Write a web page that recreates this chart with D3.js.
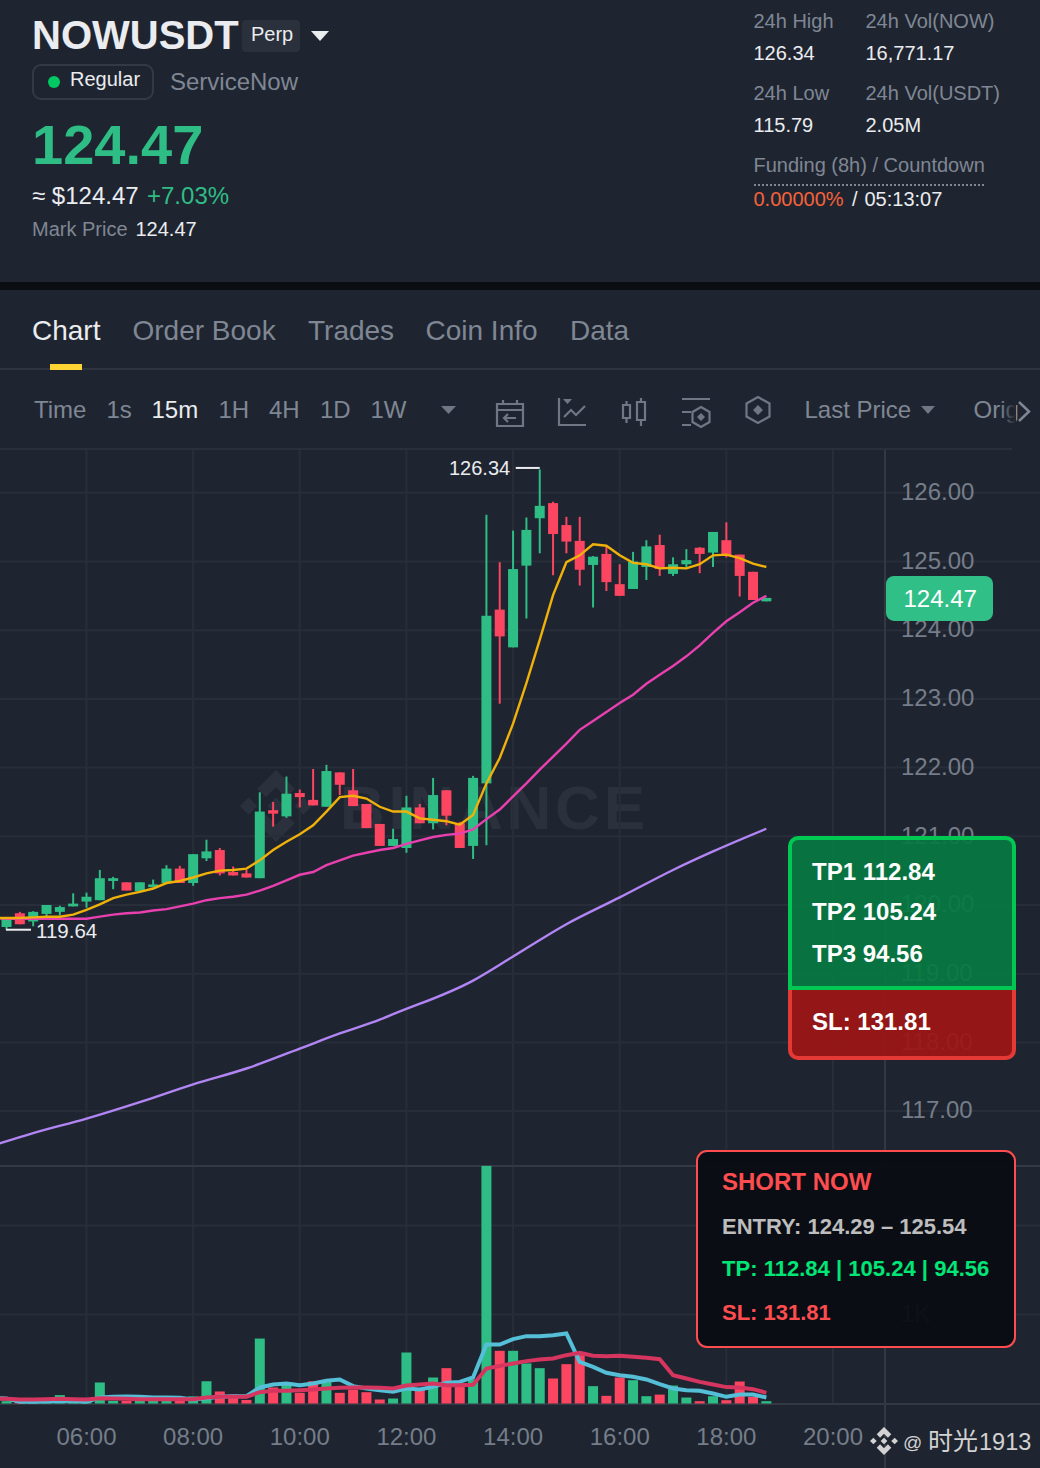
<!DOCTYPE html>
<html>
<head>
<meta charset="utf-8">
<script src="https://cdn.jsdelivr.net/npm/d3@7"></script>
<style>
  html, body { margin: 0; padding: 0; background: #1f2530; }
  svg { display: block; }
  text { font-family: "Liberation Sans", Arial, "Noto Sans CJK SC", sans-serif; }
</style>
</head>
<body>
<div id="chart"></div>
<script>
// 15m candles, 04:15 to 18:45 (the first one sits just off the left edge)
const opens = [119.75, 119.68, 119.88, 119.76, 119.87, 119.90, 119.98, 120.05, 120.07, 120.35, 120.33, 120.20, 120.26, 120.32, 120.53, 120.32, 120.68, 120.80, 120.48, 120.46, 120.39, 121.38, 121.29, 121.63, 121.53, 121.43, 121.93, 121.67, 121.47, 121.18, 120.86, 120.83, 121.42, 121.19, 121.67, 121.19, 120.86, 121.77, 124.30, 123.75, 124.94, 125.63, 125.85, 125.53, 125.30, 124.95, 125.11, 124.67, 124.60, 124.92, 125.24, 124.82, 124.96, 125.20, 125.13, 125.31, 125.10, 124.85, 124.42];
const highs = [119.80, 119.81, 119.90, 119.91, 120.00, 119.99, 120.17, 120.18, 120.51, 120.41, 120.33, 120.33, 120.37, 120.58, 120.57, 120.74, 120.95, 120.83, 120.56, 120.51, 121.64, 121.50, 121.87, 121.68, 121.98, 122.04, 121.93, 121.98, 121.47, 121.18, 121.11, 121.59, 121.47, 121.85, 121.67, 121.21, 121.88, 125.68, 124.99, 125.45, 125.64, 126.34, 125.87, 125.65, 125.65, 125.08, 125.22, 124.96, 125.14, 125.31, 125.39, 125.06, 125.18, 125.21, 125.43, 125.57, 125.10, 124.85, 124.47];
const lows = [119.70, 119.64, 119.72, 119.69, 119.81, 119.85, 119.98, 119.96, 120.07, 120.23, 120.21, 120.20, 120.26, 120.32, 120.32, 120.28, 120.64, 120.43, 120.43, 120.40, 120.39, 121.14, 121.27, 121.42, 121.45, 121.43, 121.60, 121.44, 121.12, 120.86, 120.86, 120.76, 121.19, 121.10, 121.16, 120.83, 120.67, 120.87, 122.93, 123.75, 124.17, 125.12, 124.80, 125.12, 124.65, 124.33, 124.57, 124.50, 124.60, 124.73, 124.79, 124.79, 124.92, 124.83, 124.92, 125.06, 124.49, 124.44, 124.42];
const closes = [119.80, 119.81, 119.72, 119.90, 120.00, 119.97, 120.02, 120.12, 120.39, 120.39, 120.21, 120.33, 120.30, 120.53, 120.32, 120.74, 120.78, 120.46, 120.43, 120.40, 121.36, 121.33, 121.62, 121.57, 121.45, 121.95, 121.75, 121.44, 121.12, 120.86, 120.96, 121.42, 121.19, 121.60, 121.30, 120.83, 121.85, 124.21, 123.91, 124.89, 125.46, 125.81, 125.40, 125.29, 124.88, 125.07, 124.70, 124.50, 125.00, 125.22, 124.89, 124.96, 125.02, 125.11, 125.43, 125.09, 124.79, 124.44, 124.47];
const volumes = [0.02, 0.026, 0.02, 0.02, 0.015, 0.094, 0.02, 0.03, 0.236, 0.03, 0.03, 0.03, 0.03, 0.03, 0.03, 0.08, 0.25, 0.135, 0.10, 0.04, 0.73, 0.18, 0.21, 0.12, 0.25, 0.24, 0.12, 0.157, 0.127, 0.045, 0.056, 0.573, 0.157, 0.292, 0.397, 0.225, 0.27, 2.67, 0.592, 0.592, 0.45, 0.397, 0.281, 0.442, 0.543, 0.195, 0.086, 0.292, 0.262, 0.082, 0.10, 0.202, 0.067, 0.026, 0.082, 0.037, 0.247, 0.075, 0.026];

const ma7 = [119.81, 119.81, 119.81, 119.82, 119.83, 119.83, 119.86, 119.93, 120.01, 120.10, 120.15, 120.19, 120.24, 120.32, 120.35, 120.40, 120.46, 120.50, 120.51, 120.53, 120.65, 120.80, 120.92, 121.03, 121.16, 121.36, 121.57, 121.59, 121.55, 121.43, 121.36, 121.36, 121.26, 121.24, 121.22, 121.17, 121.31, 121.77, 122.14, 122.64, 123.23, 123.86, 124.51, 124.99, 125.09, 125.25, 125.23, 125.09, 124.98, 124.96, 124.90, 124.91, 124.90, 124.96, 125.09, 125.10, 125.05, 124.97, 124.92];
const ma25 = [119.81, 119.80, 119.80, 119.80, 119.80, 119.80, 119.80, 119.80, 119.83, 119.86, 119.88, 119.89, 119.92, 119.94, 119.98, 120.02, 120.07, 120.10, 120.12, 120.15, 120.21, 120.28, 120.36, 120.44, 120.48, 120.58, 120.65, 120.72, 120.76, 120.80, 120.83, 120.89, 120.94, 120.99, 121.02, 121.04, 121.10, 121.25, 121.39, 121.58, 121.77, 121.97, 122.16, 122.35, 122.55, 122.68, 122.81, 122.94, 123.06, 123.22, 123.35, 123.48, 123.62, 123.78, 123.96, 124.13, 124.26, 124.40, 124.50];
// the slow average is nearly straight, so it is read at fewer candles
const ma99Times = ["04:15", "05:00", "06:00", "07:00", "08:00", "09:00", "10:00", "10:45", "11:30", "11:45", "13:15", "14:00", "15:00", "16:00", "17:00", "17:45", "18:45"];
const ma99 = [116.50, 116.68, 116.89, 117.13, 117.39, 117.62, 117.91, 118.13, 118.33, 118.41, 118.90, 119.25, 119.72, 120.11, 120.51, 120.78, 121.11];

const volMaFast = [0.064, 0.056, 0.019, 0.019, 0.022, 0.026, 0.026, 0.019, 0.067, 0.075, 0.079, 0.075, 0.067, 0.067, 0.064, 0.045, 0.060, 0.075, 0.082, 0.082, 0.180, 0.213, 0.225, 0.206, 0.225, 0.255, 0.270, 0.195, 0.169, 0.150, 0.131, 0.169, 0.157, 0.187, 0.232, 0.243, 0.292, 0.663, 0.663, 0.723, 0.757, 0.757, 0.768, 0.787, 0.468, 0.412, 0.345, 0.318, 0.300, 0.270, 0.217, 0.169, 0.150, 0.142, 0.112, 0.075, 0.101, 0.101, 0.067];
const volMaSlow = [0.056, 0.052, 0.045, 0.045, 0.049, 0.052, 0.049, 0.045, 0.060, 0.056, 0.052, 0.049, 0.049, 0.049, 0.049, 0.049, 0.067, 0.075, 0.075, 0.075, 0.127, 0.142, 0.142, 0.150, 0.157, 0.169, 0.176, 0.180, 0.180, 0.176, 0.169, 0.202, 0.213, 0.225, 0.206, 0.206, 0.210, 0.393, 0.423, 0.449, 0.476, 0.494, 0.506, 0.543, 0.569, 0.536, 0.532, 0.536, 0.524, 0.513, 0.498, 0.318, 0.281, 0.243, 0.213, 0.184, 0.180, 0.161, 0.120];

const priceTicks = [117, 118, 119, 120, 121, 122, 123, 124, 125, 126];
const volumeTicks = [1, 2];
const timeTicks = ["06:00", "08:00", "10:00", "12:00", "14:00", "16:00", "18:00", "20:00"];
const lastPrice = 124.47;

const GREEN = '#2ebd85';
const RED = '#fb4561';
const GRID = '#282e39';
const BG = '#1f2530';
const GRAY = '#7f8794';
const LIGHT = '#eaecef';

const width = 1040;
const height = 1468;

const toDate = s => new Date('2025-01-01T' + s + ':00');
const candleTimes = d3.timeMinute.every(15).range(toDate('04:15'), toDate('18:46'));

const x = d3.scaleTime().domain([toDate('06:00'), toDate('20:00')]).range([86.5, 833]);
const y = d3.scaleLinear().domain([126, 117]).range([492.8, 1111.1]);
const yVol = d3.scaleLinear().domain([0, 1]).range([1403.5, 1314.5]);

const svg = d3.select('#chart')
  .append('svg')
  .attr('viewBox', [0, 0, width, height])
  .attr('width', width)
  .attr('height', height);

svg.append('rect').attr('width', width).attr('height', height).attr('fill', BG);

function label(parent, px, py, str, size, fill, weight) {
  return parent.append('text')
    .attr('x', px)
    .attr('y', py)
    .attr('font-size', size)
    .attr('font-weight', weight || 'normal')
    .attr('fill', fill)
    .text(str);
}

// binance mark built from the centre diamond, two side diamonds and two chevrons
function logo(parent, cx, cy, r, fill) {
  const shapes = [
    [[0, -0.24], [0.24, 0], [0, 0.24], [-0.24, 0]],
    [[-1, 0], [-0.76, -0.24], [-0.52, 0], [-0.76, 0.24]],
    [[1, 0], [0.76, -0.24], [0.52, 0], [0.76, 0.24]],
    [[0, -1], [0.52, -0.48], [0.28, -0.24], [0, -0.52], [-0.28, -0.24], [-0.52, -0.48]],
    [[0, 1], [0.52, 0.48], [0.28, 0.24], [0, 0.52], [-0.28, 0.24], [-0.52, 0.48]]
  ];
  parent.selectAll(null)
    .data(shapes)
    .join('polygon')
    .attr('points', d => d.map(p => [cx + p[0] * r, cy + p[1] * r].join(',')).join(' '))
    .attr('fill', fill);
}

// ---------- header ----------
const header = svg.append('g');
label(header, 32, 49, 'NOWUSDT', 40, LIGHT, 'bold');
header.append('rect').attr('x', 242).attr('y', 20).attr('width', 58).attr('height', 32).attr('rx', 4).attr('fill', '#2a303c');
label(header, 251, 41, 'Perp', 20, LIGHT);
header.append('path').attr('d', 'M311 31h18l-9 10z').attr('fill', LIGHT);
header.append('rect').attr('x', 33).attr('y', 65).attr('width', 120).attr('height', 34).attr('rx', 8)
  .attr('fill', 'none').attr('stroke', '#333a46').attr('stroke-width', 2);
header.append('circle').attr('cx', 54).attr('cy', 82).attr('r', 6).attr('fill', '#00c863');
label(header, 70, 86, 'Regular', 20, LIGHT);
label(header, 170, 90, 'ServiceNow', 24, GRAY);
label(header, 32, 164, '124.47', 56, GREEN, 'bold');
label(header, 32, 204, '≈ $124.47', 24, LIGHT);
label(header, 147, 204, '+7.03%', 24, GREEN);
label(header, 32, 236, 'Mark Price', 20, GRAY);
label(header, 135.5, 236, '124.47', 20, LIGHT);

label(header, 753.5, 28, '24h High', 20, GRAY);
label(header, 753.5, 60, '126.34', 20, LIGHT);
label(header, 865.5, 28, '24h Vol(NOW)', 20, GRAY);
label(header, 865.5, 60, '16,771.17', 20, LIGHT);
label(header, 753.5, 100, '24h Low', 20, GRAY);
label(header, 753.5, 132, '115.79', 20, LIGHT);
label(header, 865.5, 100, '24h Vol(USDT)', 20, GRAY);
label(header, 865.5, 132, '2.05M', 20, LIGHT);
label(header, 753.5, 172, 'Funding (8h) / Countdown', 20, GRAY);
header.append('line').attr('x1', 754).attr('x2', 984).attr('y1', 185).attr('y2', 185)
  .attr('stroke', '#7f8794').attr('stroke-width', 2).attr('stroke-dasharray', '2 2');
label(header, 753.5, 206, '0.00000%', 20, '#f6623a');
label(header, 852, 206, '/', 20, LIGHT);
label(header, 864.5, 206, '05:13:07', 20, LIGHT);

svg.append('rect').attr('y', 282).attr('width', width).attr('height', 8).attr('fill', '#0b0e11');

// ---------- tabs ----------
const tabs = svg.append('g');
const tabNames = ['Chart', 'Order Book', 'Trades', 'Coin Info', 'Data'];
const tabX = [32, 132.5, 308, 425.5, 570];
tabNames.forEach((t, i) => label(tabs, tabX[i], 340, t, 28, i === 0 ? LIGHT : GRAY));
tabs.append('rect').attr('y', 368).attr('width', width).attr('height', 2).attr('fill', '#2e3440');
tabs.append('rect').attr('x', 50).attr('y', 364).attr('width', 32).attr('height', 6).attr('fill', '#fcd535');

// ---------- toolbar ----------
const toolbar = svg.append('g');
const toolNames = ['Time', '1s', '15m', '1H', '4H', '1D', '1W'];
const toolX = [34, 106.5, 151.5, 218.5, 269, 320, 370.5];
toolNames.forEach((t, i) => label(toolbar, toolX[i], 418, t, 24, i === 2 ? LIGHT : GRAY));
toolbar.append('path').attr('d', 'M441 406h15l-7.5 8z M921 406h14l-7 8z').attr('fill', '#6f7785');
label(toolbar, 804.5, 418, 'Last Price', 24, GRAY);
label(toolbar, 973.5, 418, 'Orig', 24, GRAY);
const fade = svg.append('defs').append('linearGradient').attr('id', 'fade');
fade.append('stop').attr('offset', '0').attr('stop-color', BG).attr('stop-opacity', 0);
fade.append('stop').attr('offset', '1').attr('stop-color', BG).attr('stop-opacity', 1);
toolbar.append('rect').attr('x', 1000).attr('y', 396).attr('width', 16).attr('height', 32).attr('fill', 'url(#fade)');
toolbar.append('path').attr('d', 'M1019 402l10 9.5-10 9.5').attr('fill', 'none').attr('stroke', GRAY).attr('stroke-width', 2.5);

const iconPaths = [
  'M497 404h26v22h-26z M497 410h26 M503 400v4 M517 400v4 M516 418h-12 M508 414l-4 4 4 4',
  'M559 398v27h27 M564 417l7-7 5 5 9-9',
  'M623 405h7v13h-7z M626.5 401v4 M626.5 418v5 M637 402h8v18h-8z M641 398v4 M641 420v6',
  'M682 399h28 M682 412h9 M682 425h9 M701 407l8.5 5v10l-8.5 5-8.5-5v-10z',
  'M758 397l11.5 6.5v13l-11.5 6.5-11.5-6.5v-13z'
];
toolbar.selectAll('path.icon')
  .data(iconPaths)
  .join('path')
  .attr('class', 'icon')
  .attr('d', d => d)
  .attr('fill', 'none')
  .attr('stroke', '#6f7785')
  .attr('stroke-width', 2.2);
toolbar.append('path').attr('d', 'M563 399h9l-4.5 5z M701 413l4 4-4 4-4-4z M758 405l5 5-5 5-5-5z').attr('fill', '#6f7785');

// ---------- chart panes ----------
const plot = svg.append('g');
plot.append('rect').attr('y', 448).attr('width', 1012).attr('height', 2).attr('fill', '#2a303b');

// watermark sits under the grid
const mark = plot.append('g');
logo(mark, 276, 806, 36, '#2b313c');
label(mark, 340, 829, 'BINANCE', 62, '#2b313c', 'bold').attr('textLength', 305).attr('lengthAdjust', 'spacing');

// grid
plot.append('g').selectAll('line')
  .data(priceTicks)
  .join('line')
  .attr('x1', 0).attr('x2', width)
  .attr('y1', d => y(d)).attr('y2', d => y(d))
  .attr('stroke', GRID).attr('stroke-width', 2);
plot.append('g').selectAll('line')
  .data(volumeTicks)
  .join('line')
  .attr('x1', 0).attr('x2', width)
  .attr('y1', d => yVol(d)).attr('y2', d => yVol(d))
  .attr('stroke', GRID).attr('stroke-width', 2);
plot.append('g').selectAll('line')
  .data(timeTicks)
  .join('line')
  .attr('x1', d => x(toDate(d))).attr('x2', d => x(toDate(d)))
  .attr('y1', 450).attr('y2', 1404)
  .attr('stroke', GRID).attr('stroke-width', 2);

// pane borders
plot.append('rect').attr('y', 1165).attr('width', width).attr('height', 2).attr('fill', '#333944');
plot.append('rect').attr('y', 1403).attr('width', width).attr('height', 2).attr('fill', '#333944');
plot.append('rect').attr('x', 884).attr('y', 450).attr('width', 2).attr('height', 1018).attr('fill', '#333944');

// volume bars
const isUp = i => closes[i] >= opens[i];
plot.append('g').selectAll('rect')
  .data(volumes)
  .join('rect')
  .attr('x', (d, i) => x(candleTimes[i]) - 5)
  .attr('width', 10)
  .attr('y', d => yVol(d))
  .attr('height', d => yVol(0) - yVol(d))
  .attr('fill', (d, i) => isUp(i) ? GREEN : RED);

const lineOf = (scale) => d3.line()
  .x((d, i) => x(candleTimes[i]))
  .y(d => scale(d));

plot.append('path').datum(volMaFast)
  .attr('d', lineOf(yVol))
  .attr('fill', 'none').attr('stroke', '#55bfd8').attr('stroke-width', 4);
plot.append('path').datum(volMaSlow)
  .attr('d', lineOf(yVol))
  .attr('fill', 'none').attr('stroke', '#d5355f').attr('stroke-width', 4);

// candles
const candles = plot.append('g').selectAll('g')
  .data(candleTimes)
  .join('g');
candles.append('line')
  .attr('x1', d => x(d)).attr('x2', d => x(d))
  .attr('y1', (d, i) => y(highs[i]))
  .attr('y2', (d, i) => y(lows[i]))
  .attr('stroke', (d, i) => isUp(i) ? GREEN : RED)
  .attr('stroke-width', 2);
candles.append('rect')
  .attr('x', d => x(d) - 5)
  .attr('width', 10)
  .attr('y', (d, i) => y(Math.max(opens[i], closes[i])))
  .attr('height', (d, i) => Math.max(2, Math.abs(y(opens[i]) - y(closes[i]))))
  .attr('fill', (d, i) => isUp(i) ? GREEN : RED);

// moving averages
plot.append('path').datum(ma99)
  .attr('d', d3.line().x((d, i) => x(toDate(ma99Times[i]))).y(d => y(d)).curve(d3.curveMonotoneX))
  .attr('fill', 'none').attr('stroke', '#b285f5').attr('stroke-width', 2.4);
plot.append('path').datum(ma25)
  .attr('d', lineOf(y))
  .attr('fill', 'none').attr('stroke', '#e940b0').attr('stroke-width', 2.4);
plot.append('path').datum(ma7)
  .attr('d', lineOf(y))
  .attr('fill', 'none').attr('stroke', '#f0b10b').attr('stroke-width', 2.4);

// high / low markers
const highI = closes.length - 18;
const highY = y(d3.max(highs)) - 1.5;
plot.append('line')
  .attr('x1', x(candleTimes[highI]) - 24).attr('x2', x(candleTimes[highI]))
  .attr('y1', highY).attr('y2', highY)
  .attr('stroke', LIGHT).attr('stroke-width', 2);
label(plot, 449, highY + 7, d3.max(highs).toFixed(2), 20, LIGHT);
plot.append('line')
  .attr('x1', 6).attr('x2', 31)
  .attr('y1', y(d3.min(lows))).attr('y2', y(d3.min(lows)))
  .attr('stroke', LIGHT).attr('stroke-width', 2);
label(plot, 36, y(d3.min(lows)) + 8, d3.min(lows).toFixed(2), 20.5, LIGHT);

// axes
const priceAxis = plot.append('g')
  .attr('transform', 'translate(885,0)')
  .call(d3.axisRight(y).tickValues(priceTicks).tickFormat(d3.format('.2f')).tickSize(0).tickPadding(16));
const volumeAxis = plot.append('g')
  .attr('transform', 'translate(885,0)')
  .call(d3.axisRight(yVol).tickValues(volumeTicks).tickFormat(d => d + 'K').tickSize(0).tickPadding(16));
const timeAxis = plot.append('g')
  .attr('transform', 'translate(-0.5,1404)')
  .call(d3.axisBottom(x).tickValues(timeTicks.map(toDate)).tickFormat(d3.timeFormat('%H:%M')).tickSize(0).tickPadding(24));
[priceAxis, volumeAxis, timeAxis].forEach(a => {
  a.select('.domain').remove();
  a.selectAll('text')
    .attr('font-family', '"Liberation Sans", Arial, sans-serif')
    .attr('font-size', 24)
    .attr('fill', '#757d8a');
});
priceAxis.selectAll('text').attr('dy', '0.28em');
volumeAxis.selectAll('text').attr('dy', '0.28em');

// last price tag
plot.append('rect').attr('x', 886).attr('y', y(lastPrice) - 22).attr('width', 107).attr('height', 45).attr('rx', 8).attr('fill', '#31bf88');
label(plot, 903.5, y(lastPrice) + 9, lastPrice.toFixed(2), 24, '#ffffff');

// ---------- signal overlays ----------
const overlay = svg.append('g');
overlay.append('path')
  .attr('d', 'M790 988v62a8 8 0 0 0 8 8h208a8 8 0 0 0 8-8v-62z')
  .attr('fill', '#9d1616').attr('fill-opacity', 0.93)
  .attr('stroke', '#e53935').attr('stroke-width', 4);
overlay.append('path')
  .attr('d', 'M790 988v-142a8 8 0 0 1 8-8h208a8 8 0 0 1 8 8v142z')
  .attr('fill', '#067a42').attr('fill-opacity', 0.93)
  .attr('stroke', '#00c853').attr('stroke-width', 4);
label(overlay, 812, 880, 'TP1 112.84', 24, '#ffffff', 'bold');
label(overlay, 812, 920, 'TP2 105.24', 24, '#ffffff', 'bold');
label(overlay, 812, 962, 'TP3 94.56', 24, '#ffffff', 'bold');
label(overlay, 812, 1030, 'SL: 131.81', 24, '#ffffff', 'bold');

overlay.append('rect').attr('x', 697).attr('y', 1151).attr('width', 318).attr('height', 196).attr('rx', 10)
  .attr('fill', '#0a0d14').attr('fill-opacity', 0.96)
  .attr('stroke', '#ff4d4f').attr('stroke-width', 2);
label(overlay, 722, 1190, 'SHORT NOW', 24, '#ff4d4f', 'bold');
label(overlay, 722, 1234, 'ENTRY: 124.29 – 125.54', 22, '#bdbdbd', 'bold');
label(overlay, 722, 1276, 'TP: 112.84 | 105.24 | 94.56', 22.05, '#00e676', 'bold');
label(overlay, 722, 1320, 'SL: 131.81', 22, '#ff4d4f', 'bold');

// ---------- footer watermark ----------
logo(svg, 884, 1441, 14, '#d2d2d2');
label(svg, 903, 1449, '@', 19, '#d2d2d2');
label(svg, 928, 1450, '时光', 25, '#d2d2d2');
label(svg, 979, 1450, '1913', 23.5, '#d2d2d2');
</script>
</body>
</html>
